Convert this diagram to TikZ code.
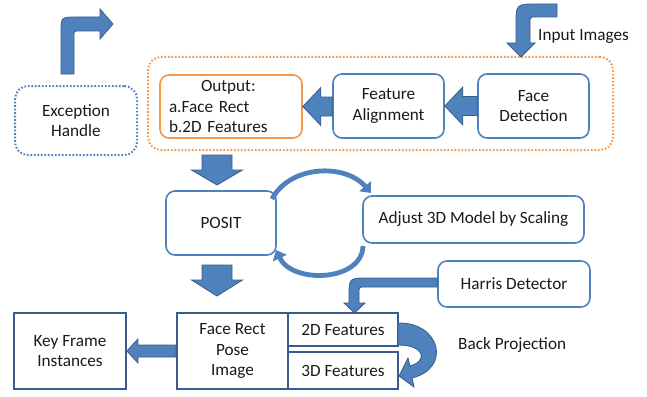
\documentclass[tikz,border=0pt]{standalone}
\usepackage{fontspec}
\setmainfont{Carlito}
\usetikzlibrary{calc,arrows.meta}
\definecolor{bl}{HTML}{4F81BD}
\definecolor{dbl}{HTML}{385D8A}
\definecolor{org}{HTML}{F79646}
\definecolor{txt}{HTML}{1A1A1A}
\newcommand\arrowleft[5]{%
  \path[blockarr] let \p1=(#1),\p2=(#2) in
    (\x1,\y2+#3) -- (\x2+#5,\y2+#3) -- (\x2+#5,\y2+#4) -- (\x2,\y2) --
    (\x2+#5,\y2-#4) -- (\x2+#5,\y2-#3) -- (\x1,\y2-#3) -- cycle;}
\newcommand\arrowdown[5]{%
  \path[blockarr] let \p1=(#1),\p2=(#2) in
    (\x2+#3,\y1) -- (\x2+#3,\y2+#5) -- (\x2+#4,\y2+#5) -- (\x2,\y2) --
    (\x2-#4,\y2+#5) -- (\x2-#3,\y2+#5) -- (\x2-#3,\y1) -- cycle;}
\begin{document}
\begin{tikzpicture}[x=1pt,y=-1pt,
  font=\fontsize{17.2}{20.5}\selectfont, text=txt,
  rbox/.style={draw=bl, line width=1.6pt, rounded corners=9pt, fill=white,
    inner sep=0pt, align=center},
  sbox/.style={draw=dbl, line width=1.8pt, inner sep=0pt, align=center},
  dotbox/.style={rounded corners=13pt, line width=2pt, dash pattern=on 1.6pt off 1.9pt, inner sep=0pt},
  blockarr/.style={fill=bl, draw=dbl, line width=0.8pt, line join=miter},
  curvarr/.style={draw=bl, line width=4.8pt, -{Triangle[width=15pt,length=9pt]}}]
\useasboundingbox (0,0) rectangle (647,396);

% group and boxes
\node[dotbox, draw=org, minimum width=465pt, minimum height=93pt] (grp) at (380.5,103.5) {};
\node[dotbox, draw=bl, minimum width=122pt, minimum height=69pt, align=center] (exc) at (76,120.5) {Exception\\Handle};
\node[rbox, draw=org, minimum width=142pt, minimum height=63pt, text width=124pt, align=left] (out) at (231,106.5)
  {\hspace*{32pt}Output:\\a.Face Rect\\b.2D Features};
\node[rbox, minimum width=111pt, minimum height=64pt] (fa) at (388.5,106) {Feature\\Alignment};
\node[rbox, minimum width=111pt, minimum height=64pt] (fd) at (533.5,106) {Face\\Detection};
\node[rbox, minimum width=110pt, minimum height=64pt] (posit) at (221,223) {POSIT};
\node[rbox, minimum width=221pt, minimum height=47pt] (adj) at (473.5,219.5) {Adjust 3D Model by Scaling};
\node[rbox, minimum width=152pt, minimum height=46pt] (har) at (514,284) {Harris Detector};
\node[sbox, minimum width=112pt, minimum height=76pt] (key) at (70,351) {Key Frame\\Instances};
\node[sbox, minimum width=111pt, minimum height=76pt] (frp) at (232.5,351) {Face Rect\\Pose\\Image};
\node[sbox, minimum width=110pt, minimum height=33pt] (f2d) at (343,329.5) {2D Features};
\node[sbox, minimum width=110pt, minimum height=37pt] (f3d) at (343,370.5) {3D Features};

\node[anchor=west, inner sep=0pt] (inl) at (538,36) {Input Images};
\node[anchor=west, inner sep=0pt] (bpl) at (458,345) {Back Projection};

% straight block arrows
\arrowleft{fd.west}{fa.east}{9.5pt}{19pt}{18pt}
\arrowleft{fa.west}{out.east}{9.5pt}{19pt}{18pt}
\arrowleft{frp.west}{key.east}{6pt}{12pt}{11pt}
\coordinate (d1s) at (217,155); \coordinate (d1e) at (217,185);
\coordinate (d2s) at (217,265); \coordinate (d2e) at (217,296);
\arrowdown{d1s}{d1e}{15pt}{25.5pt}{15pt}
\arrowdown{d2s}{d2e}{15pt}{25.5pt}{16pt}

% bent block arrows
\path[blockarr] (61,74) -- (61,33) .. controls (61,17) .. (77,17) -- (100,17) -- (100,9)
  -- (113,24) -- (100,39) -- (100,31) -- (79,31) .. controls (74,31) .. (74,36) -- (74,74) -- cycle;
\path[blockarr] (557,4) -- (537,4) .. controls (516,4) .. (516,25) -- (516,43) -- (507,43)
  -- (521,57) -- (535,43) -- (530,43) -- (530,23) .. controls (530,17) .. (536,17) -- (557,17) -- cycle;
\path[blockarr] (har.west |- 0,278) -- (368,278) .. controls (349,278) .. (349,297) -- (349,303) -- (344,303)
  -- (354.5,313) -- (365,303) -- (359,303) -- (359,293) .. controls (359,287) .. (365,287) -- (har.west |- 0,287) -- cycle;

% back projection
\path[blockarr] (398,323) .. controls (440,322) and (452,368) .. (412,378)
  -- (414,387) -- (399,376) -- (408,358) -- (410,366)
  .. controls (428,361) and (425,345) .. (398,345) -- cycle;

% curved arrows between POSIT and Adjust
\draw[curvarr] (272,199) .. controls (290,165) and (345,163) .. (371,193);
\draw[curvarr] (363,246) .. controls (362,282) and (292,284) .. (276,250);
\end{tikzpicture}
\end{document}
